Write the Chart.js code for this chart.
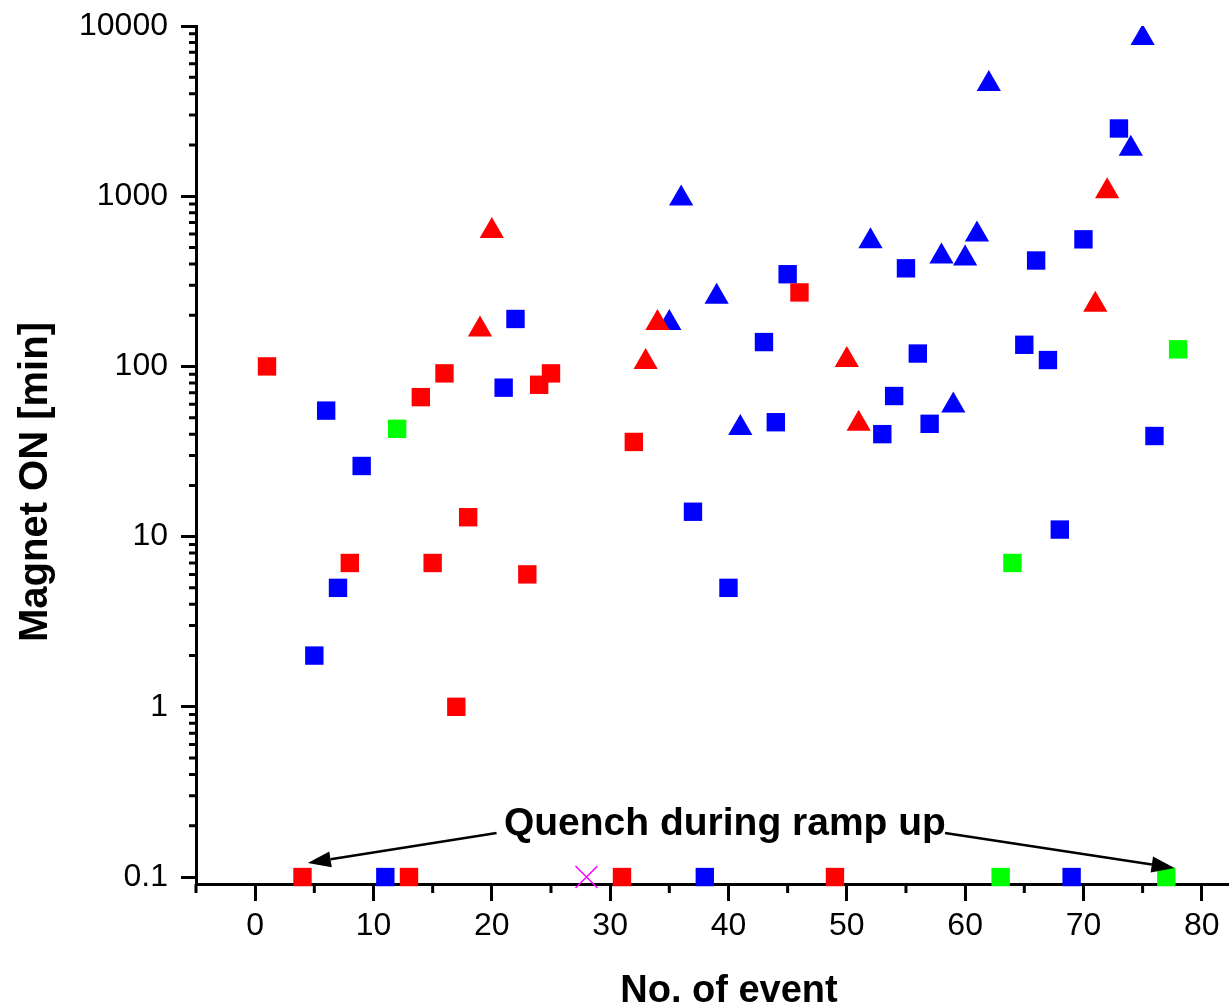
<!DOCTYPE html>
<html>
<head>
<meta charset="utf-8">
<title>Magnet ON time per event</title>
<script src="https://cdn.jsdelivr.net/npm/chart.js@4.4.1/dist/chart.umd.min.js"></script>
<style>
  html, body { margin: 0; padding: 0; background: #fff; overflow: hidden; }
  canvas { display: block; }
</style>
</head>
<body>
<canvas id="magnetChart" width="1229" height="1007"></canvas>
<script>
// event number and magnet-on time [min] for each group
const redSquareX = [1, 4, 8, 13, 14, 15, 16, 17, 18, 23, 24, 25, 31, 32, 46, 49];
const redSquareY = [100, 0.1, 7, 0.1, 66, 7, 91, 1, 13, 6, 78, 91, 0.1, 36, 272, 0.1];

const redTriangleX = [19, 20, 33, 34, 50, 51, 71, 72];
const redTriangleY = [165, 625, 106, 180, 109, 46, 230, 1070];

const blueSquareX = [5, 6, 7, 9, 11, 21, 22, 37, 38, 40, 43, 44, 45, 53, 54, 55, 56, 57, 65, 66, 67, 68, 69, 70, 73, 76];
const blueSquareY = [2, 55, 5, 26, 0.1, 75, 190, 14, 0.1, 5, 139, 47, 348, 40, 67, 377, 119, 46, 134, 419, 109, 11, 0.1, 558, 2500, 39];

const blueTriangleX = [35, 36, 39, 41, 52, 58, 59, 60, 61, 62, 74, 75];
const blueTriangleY = [180, 970, 257, 43.5, 543, 443, 59, 430, 595, 4560, 1900, 8500];

const greenSquareX = [12, 63, 64, 77, 78];
const greenSquareY = [43, 0.1, 7, 0.1, 126];

const crossX = [28];
const crossY = [0.1];

const xTicks = [0, 10, 20, 30, 40, 50, 60, 70, 80];
const yTicks = [0.1, 1, 10, 100, 1000, 10000];

// "Quench during ramp up" note, placed in data coordinates
const noteText = 'Quench during ramp up';
const notePos = { x: 39.7, y: 0.177 };
const noteArrows = [
  { from: { x: 20.4, y: 0.1815 }, to: { x: 4.45, y: 0.121 } },
  { from: { x: 58.3, y: 0.1815 }, to: { x: 77.7, y: 0.113 } }
];

const FONT = '"Liberation Sans", Arial, Helvetica, sans-serif';

const pts = (xs, ys) => xs.map((x, i) => ({ x: x, y: ys[i] }));

const topClip = { left: false, top: 0, right: false, bottom: false };

function markers(data, color, style, radius) {
  return {
    data: data,
    showLine: false,
    pointStyle: style,
    pointRadius: radius,
    pointBackgroundColor: color,
    pointBorderColor: color,
    pointBorderWidth: 0,
    clip: topClip
  };
}

// minor ticks, axis titles and the arrow note
const decorations = {
  id: 'decorations',
  afterDraw(chart) {
    const { ctx, chartArea: area, scales: { x, y } } = chart;
    ctx.save();

    ctx.strokeStyle = '#000';
    ctx.lineWidth = 3;
    ctx.beginPath();
    for (let v = -5; v <= x.max; v += 10) {
      const px = x.getPixelForValue(v);
      ctx.moveTo(px, area.bottom);
      ctx.lineTo(px, area.bottom + 9);
    }
    for (let e = -2; e <= 4; e++) {
      for (let m = 2; m <= 9; m++) {
        const v = m * Math.pow(10, e);
        if (v < y.min || v > y.max) continue;
        const py = y.getPixelForValue(v);
        ctx.moveTo(area.left, py);
        ctx.lineTo(area.left - 7, py);
      }
    }
    ctx.stroke();

    ctx.fillStyle = '#000';
    ctx.font = 'bold 38px ' + FONT;
    ctx.textAlign = 'center';
    ctx.textBaseline = 'alphabetic';
    ctx.fillText('No. of event', 729, 1002);

    ctx.save();
    ctx.translate(47, 482);
    ctx.rotate(-Math.PI / 2);
    ctx.font = 'bold 40px ' + FONT;
    ctx.fillText('Magnet ON [min]', 0, 0);
    ctx.restore();

    ctx.font = 'bold 39px ' + FONT;
    ctx.fillText(noteText, x.getPixelForValue(notePos.x), y.getPixelForValue(notePos.y));

    ctx.lineWidth = 2.5;
    noteArrows.forEach(a => {
      const x0 = x.getPixelForValue(a.from.x), y0 = y.getPixelForValue(a.from.y);
      const x1 = x.getPixelForValue(a.to.x), y1 = y.getPixelForValue(a.to.y);
      const ang = Math.atan2(y1 - y0, x1 - x0);
      const len = 23, half = 8;
      const bx = x1 - Math.cos(ang) * len, by = y1 - Math.sin(ang) * len;
      ctx.beginPath();
      ctx.moveTo(x0, y0);
      ctx.lineTo(bx, by);
      ctx.stroke();
      ctx.beginPath();
      ctx.moveTo(x1, y1);
      ctx.lineTo(bx + Math.sin(ang) * half, by - Math.cos(ang) * half);
      ctx.lineTo(bx - Math.sin(ang) * half, by + Math.cos(ang) * half);
      ctx.closePath();
      ctx.fill();
    });

    ctx.restore();
  }
};

new Chart(document.getElementById('magnetChart'), {
  type: 'scatter',
  data: {
    datasets: [
      markers(pts(redSquareX, redSquareY), '#ff0000', 'rect', 13),
      markers(pts(redTriangleX, redTriangleY), '#ff0000', 'triangle', 14),
      markers(pts(blueSquareX, blueSquareY), '#0000ff', 'rect', 13),
      markers(pts(blueTriangleX, blueTriangleY), '#0000ff', 'triangle', 14),
      markers(pts(greenSquareX, greenSquareY), '#00ff00', 'rect', 13),
      {
        data: pts(crossX, crossY),
        showLine: false,
        pointStyle: 'crossRot',
        pointRadius: 15.5,
        pointBorderColor: '#ff00ff',
        pointBorderWidth: 1.5,
        clip: topClip
      }
    ]
  },
  options: {
    responsive: false,
    animation: false,
    events: [],
    layout: { autoPadding: false, padding: { top: 26, right: 0, left: 0, bottom: 0 } },
    plugins: {
      legend: { display: false },
      tooltip: { enabled: false }
    },
    scales: {
      x: {
        type: 'linear',
        position: 'bottom',
        min: -5,
        max: 82.3,
        border: { color: '#000', width: 3 },
        grid: { drawOnChartArea: false, drawTicks: true, tickLength: 17, tickWidth: 3, tickColor: '#000' },
        ticks: { color: '#000', font: { family: FONT, size: 32 }, padding: 6, maxRotation: 0 },
        afterBuildTicks: s => { s.ticks = xTicks.map(v => ({ value: v })); },
        afterFit: s => { s.height = 123; s.paddingLeft = 0; s.paddingRight = 0; }
      },
      y: {
        type: 'logarithmic',
        min: 0.091,
        max: 10000,
        border: { color: '#000', width: 3 },
        grid: { drawOnChartArea: false, drawTicks: true, tickLength: 15, tickWidth: 3, tickColor: '#000' },
        ticks: { color: '#000', font: { family: FONT, size: 32 }, padding: 13, callback: v => String(v) },
        afterBuildTicks: s => { s.ticks = yTicks.map(v => ({ value: v })); },
        afterFit: s => { s.width = 196; s.paddingTop = 0; s.paddingBottom = 0; }
      }
    }
  },
  plugins: [decorations]
});
</script>
</body>
</html>
